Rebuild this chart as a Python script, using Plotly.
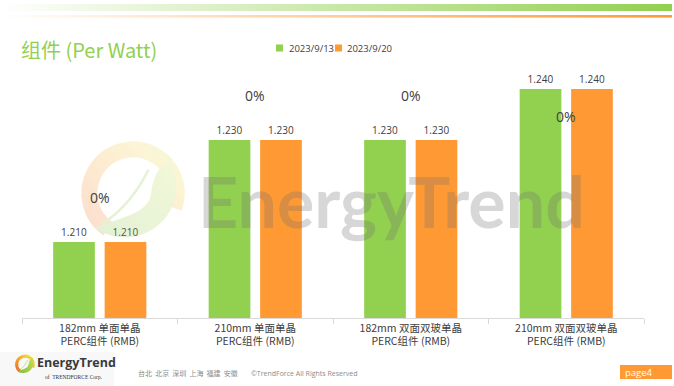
import base64
import plotly.graph_objects as go

# ---------------- data ----------------
categories = [
    "182mm 单面单晶<br>PERC组件 (RMB)",
    "210mm 单面单晶<br>PERC组件 (RMB)",
    "182mm 双面双玻单晶<br>PERC组件 (RMB)",
    "210mm 双面双玻单晶<br>PERC组件 (RMB)",
]
series_names = ["2023/9/13", "2023/9/20"]
values_0913 = [1.210, 1.230, 1.230, 1.240]
values_0920 = [1.210, 1.230, 1.230, 1.240]
changes = ["0%", "0%", "0%", "0%"]

# ---------------- layout helpers ----------------
W, H = 674, 386
L, R, T, B = 22, 30, 38, 68
PW, PH = W - L - R, H - T - B
GREEN = "#92D050"
ORANGE = "#FF9933"
TXT = "#404040"
CJK = "Noto Sans CJK SC, Open Sans, sans-serif"
NUM = "Open Sans, Noto Sans, sans-serif"


def fx(x):
    return (x - L) / PW


def fy(y):
    return (H - B - y) / PH


fig = go.Figure()
for name, vals, col in [(series_names[0], values_0913, GREEN),
                        (series_names[1], values_0920, ORANGE)]:
    fig.add_trace(go.Bar(
        x=categories, y=vals, name=name, marker_color=col,
        marker_line_width=0,
        text=[f"{v:.3f}" for v in vals], textposition="outside",
        textfont=dict(family=NUM, size=10, color=TXT),
        cliponaxis=False, showlegend=False,
    ))

# ---------------- decorative svg (gradients, logos) ----------------
DEFS = f'''<defs>
  <linearGradient id="gbar" x1="0" x2="1" y1="0" y2="0">
    <stop offset="0" stop-color="#ffffff"/><stop offset="1" stop-color="{GREEN}"/>
  </linearGradient>
  <linearGradient id="obar" x1="0" x2="1" y1="0" y2="0">
    <stop offset="0" stop-color="#ffffff"/><stop offset="1" stop-color="{ORANGE}"/>
  </linearGradient>
  <linearGradient id="ring" x1="0" x2="1" y1="1" y2="0">
    <stop offset="0" stop-color="#F26B21"/><stop offset="0.45" stop-color="#F7A12B"/><stop offset="0.8" stop-color="#F4D33A"/><stop offset="1" stop-color="#C8DC50"/>
  </linearGradient>
  <linearGradient id="leaf" x1="0" x2="1" y1="1" y2="0">
    <stop offset="0" stop-color="#7FBF3F"/><stop offset="1" stop-color="#C9DE4E"/>
  </linearGradient>
</defs>'''


def logo(cx, cy, r, op):
    return f'''
<g transform="translate({cx},{cy}) scale({r})" opacity="{op}">
  <path d="M -0.48 0.69 A 0.84 0.84 0 1 1 0.79 0.29" fill="none" stroke="url(#ring)" stroke-width="0.31"/>
  <path d="M -0.73 0.67 C -0.2 0.45 0.3 0.4 0.35 0.0 C 0.4 -0.4 0.55 -0.55 0.71 -0.62 A 0.99 0.99 0 0 1 -0.73 0.67 Z" fill="url(#leaf)"/>
  <path d="M -0.6 0.6 Q -0.05 0.25 0.3 -0.45" fill="none" stroke="#8DC63F" stroke-width="0.05"/>
</g>'''


def svg_src(body):
    s = (f'<svg xmlns="http://www.w3.org/2000/svg" width="{W}" height="{H}" '
         f'viewBox="0 0 {W} {H}">{DEFS}{body}</svg>')
    return "data:image/svg+xml;base64," + base64.b64encode(s.encode()).decode()


bg_body = f'''
<rect x="0" y="4" width="672" height="7" fill="url(#gbar)"/>
<rect x="0" y="15" width="672" height="2.6" fill="url(#obar)"/>
<rect x="0" y="352" width="114" height="34" fill="#F8F8F8"/>
{logo(25, 364.5, 10, 1)}
<rect x="620" y="365" width="52" height="14" fill="{ORANGE}"/>
'''
wm_body = logo(133, 193, 52, 0.21)

img_common = dict(xref="paper", yref="paper", x=fx(0), y=fy(0),
                  sizex=W / PW, sizey=H / PH, xanchor="left", yanchor="top",
                  sizing="stretch")
images = [dict(source=svg_src(bg_body), layer="below", **img_common),
          dict(source=svg_src(wm_body), layer="above", **img_common)]

# ---------------- annotations ----------------
ann = []
ann.append(dict(text="组件 (Per Watt)", x=fx(19), y=fy(50), xref="paper", yref="paper",
                xanchor="left", yanchor="middle", showarrow=False,
                font=dict(family=CJK, size=20, color=GREEN)))
# legend (manual, to match compact style)
leg_x = [(276, 287), (335, 345)]
shapes = []
for (sx, tx), name, col in zip(leg_x, series_names, [GREEN, ORANGE]):
    shapes.append(dict(type="rect", xref="paper", yref="paper",
                       x0=fx(sx), x1=fx(sx + 7), y0=fy(51.5), y1=fy(44.5),
                       fillcolor=col, line_width=0))
    ann.append(dict(text=name, x=fx(tx), y=fy(48), xref="paper", yref="paper",
                    xanchor="left", yanchor="middle", showarrow=False,
                    font=dict(family=NUM, size=9.5, color=TXT)))

# week-over-week change labels
change_label_y = [1.2188, 1.2388, 1.2388, 1.2347]
for c, lab, yy in zip(categories, changes, change_label_y):
    ann.append(dict(text=lab, x=c, y=yy, xref="x", yref="y", showarrow=False,
                    font=dict(family=NUM, size=14, color=TXT)))

# watermark
ann.append(dict(text="<b>EnergyTrend</b>", x=fx(391), y=fy(201), xref="paper", yref="paper",
                showarrow=False, font=dict(family="Lato, sans-serif", size=70,
                                           color="rgba(110,110,110,0.28)")))
# footer
ann.append(dict(text="<b>EnergyTrend</b>", x=fx(35), y=fy(362.5), xref="paper", yref="paper",
                xanchor="left", yanchor="middle", showarrow=False,
                font=dict(family=NUM, size=12.5, color="#3a3a3a")))
ann.append(dict(text="of  TRENDFORCE Corp.", x=fx(43), y=fy(377), xref="paper", yref="paper",
                xanchor="left", yanchor="middle", showarrow=False,
                font=dict(family="Liberation Serif, serif", size=5.5, color="#333333")))
ann.append(dict(text="台北  北京  深圳  上海  福建  安徽", x=fx(136), y=fy(373), xref="paper", yref="paper",
                xanchor="left", yanchor="middle", showarrow=False,
                font=dict(family=CJK, size=7, color="#8c8c8c")))
ann.append(dict(text="©TrendForce All Rights Reserved", x=fx(249), y=fy(373), xref="paper", yref="paper",
                xanchor="left", yanchor="middle", showarrow=False,
                font=dict(family=NUM, size=7, color="#8c8c8c")))
ann.append(dict(text="page4", x=fx(623), y=fy(372), xref="paper", yref="paper",
                xanchor="left", yanchor="middle", showarrow=False,
                font=dict(family=NUM, size=9.5, color="white")))

fig.update_layout(
    width=W, height=H,
    margin=dict(l=L, r=R, t=T, b=B, pad=0),
    paper_bgcolor="white", plot_bgcolor="rgba(0,0,0,0)",
    barmode="group", bargap=0.338, bargroupgap=0.19,
    images=images, annotations=ann, shapes=shapes,
    showlegend=False,
    xaxis=dict(type="category", showline=True, linecolor="#D9D9D9", linewidth=1,
               ticks="outside", tickson="boundaries", ticklen=5, tickcolor="#D9D9D9",
               showgrid=False, zeroline=False, fixedrange=True,
               tickfont=dict(family=CJK, size=10.5, color=TXT)),
    yaxis=dict(range=[1.1951, 1.25], visible=False, showgrid=False, zeroline=False,
               fixedrange=True),
)

fig.write_html("out.html", config={"displayModeBar": False},
               post_script="document.body.style.margin='0px';document.body.style.overflow='hidden';")
